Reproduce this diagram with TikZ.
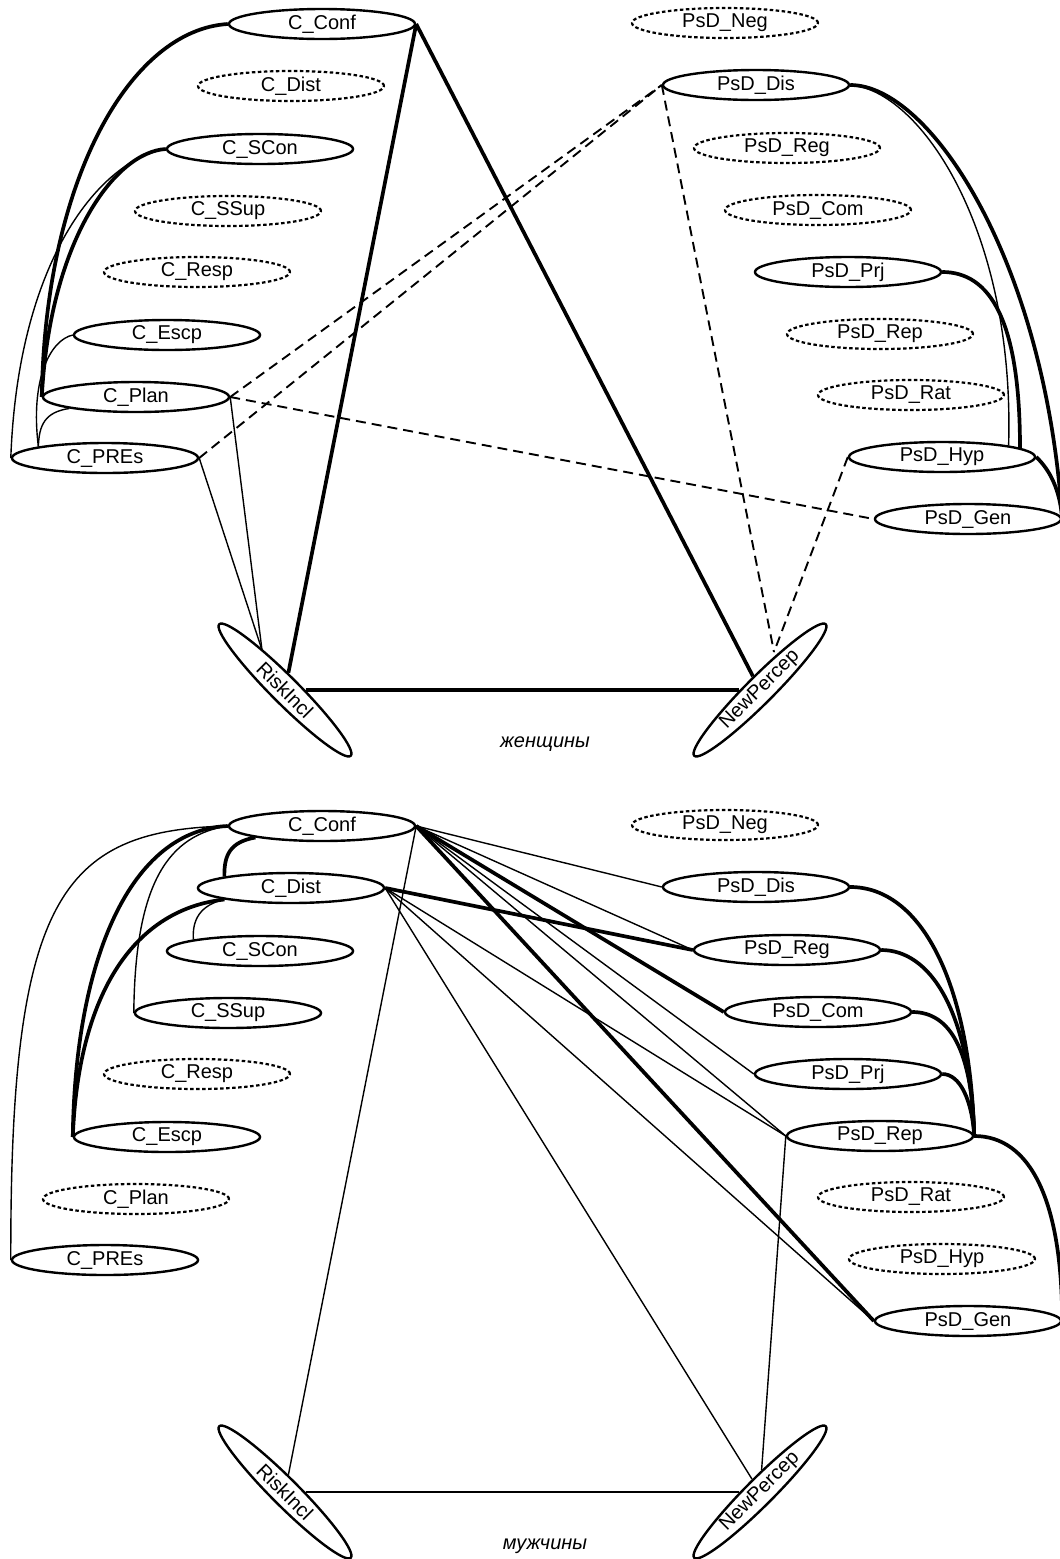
\documentclass[tikz,border=0pt]{standalone}
\usepackage{fontspec}
\setmainfont{Liberation Sans}
\usetikzlibrary{shapes.geometric,calc}
\begin{document}
\begin{tikzpicture}[x=1pt,y=-1pt,
  var/.style={ellipse, draw, line width=2.4pt, minimum width=186pt, minimum height=30pt, inner sep=0pt, font=\fontsize{20}{22}\selectfont},
  lat/.style={var, dash pattern=on 3.5pt off 2.5pt, line width=2.2pt},
  tilt/.style={var, minimum height=27pt},
  wk/.style={line width=1.4pt},
  st/.style={line width=3.7pt},
  dsh/.style={line width=1.9pt, dash pattern=on 10pt off 6pt},
  lbl/.style={font=\fontsize{20}{22}\selectfont\itshape}
]
\useasboundingbox (0,0) rectangle (1060,1559);

% ---------------- upper diagram ----------------
\node[var] (cConfA) at (322,24) {C\_Conf};
\node[lat] (cDistA) at (291,86) {C\_Dist};
\node[var] (cSConA) at (260,149) {C\_SCon};
\node[lat] (cSSupA) at (228,211) {C\_SSup};
\node[lat] (cRespA) at (197,272) {C\_Resp};
\node[var] (cEscpA) at (167,335) {C\_Escp};
\node[var] (cPlanA) at (136,397) {C\_Plan};
\node[var] (cPREsA) at (105,458) {C\_PREs};
\node[lat] (pNegA) at (725,23) {PsD\_Neg};
\node[var] (pDisA) at (756,85) {PsD\_Dis};
\node[lat] (pRegA) at (787,148) {PsD\_Reg};
\node[lat] (pComA) at (818,210) {PsD\_Com};
\node[var] (pPrjA) at (848,272) {PsD\_Prj};
\node[lat] (pRepA) at (880,334) {PsD\_Rep};
\node[lat] (pRatA) at (911,395) {PsD\_Rat};
\node[var] (pHypA) at (942,457) {PsD\_Hyp};
\node[var] (pGenA) at (968,519) {PsD\_Gen};
\node[tilt, rotate=-45] (riskA) at (285,690) {RiskIncl};
\node[tilt, rotate=45] (newA) at (760,690) {NewPercep};
\node[lbl] (womenL) at (545,744) {женщины};

\coordinate (riskTop) at ($(riskA.center)+(-23,-40)$);
\coordinate (newTop) at ($(newA.center)+(14,-38)$);

\draw[st] (cConfA.west) .. controls (130,30) and (45,180) .. (cPlanA.west);
\draw[st] (cSConA.west) .. controls (115,152) and (50,240) .. (cPlanA.west);
\draw[wk] (cSConA.west) .. controls (100,160) and (18,260) .. (cPREsA.west);
\draw[wk] (cEscpA.west) .. controls (50,340) and (30,380) .. (cPREsA.north west);
\draw[wk] (cPlanA.south west) .. controls (45,412) and (39,425) .. (cPREsA.north west);

\draw[st] (cConfA.east) -- (riskA);
\draw[st] (cConfA.east) -- (newA);
\draw[st] (riskA) -- (newA);
\draw[wk] (cPlanA.east) -- (riskTop);
\draw[wk] (cPREsA.east) -- (riskTop);
\draw[dsh] (cPlanA.east) -- (pDisA.west);
\draw[dsh] (cPREsA.east) -- (pDisA.west);
\draw[dsh] (cPlanA.east) -- (pGenA.west);
\draw[dsh] (pDisA.west) -- (newTop);
\draw[dsh] (pHypA.west) -- (newTop);

\draw[st] (pDisA.east) .. controls (930,85) and (1045,260) .. (pGenA.east);
\draw[wk] (pDisA.east) .. controls (920,90) and (1015,230) .. (pHypA.north east);
\draw[st] (pPrjA.east) .. controls (990,272) and (1020,320) .. ($(pHypA.center)+(78,-9)$);
\draw[st] (pHypA.east) .. controls (1050,470) and (1060,490) .. (pGenA.east);

% ---------------- lower diagram ----------------
\node[var] (cConfB) at (322,826) {C\_Conf};
\node[var] (cDistB) at (291,888) {C\_Dist};
\node[var] (cSConB) at (260,951) {C\_SCon};
\node[var] (cSSupB) at (228,1013) {C\_SSup};
\node[lat] (cRespB) at (197,1074) {C\_Resp};
\node[var] (cEscpB) at (167,1137) {C\_Escp};
\node[lat] (cPlanB) at (136,1199) {C\_Plan};
\node[var] (cPREsB) at (105,1260) {C\_PREs};
\node[lat] (pNegB) at (725,825) {PsD\_Neg};
\node[var] (pDisB) at (756,887) {PsD\_Dis};
\node[var] (pRegB) at (787,950) {PsD\_Reg};
\node[var] (pComB) at (818,1012) {PsD\_Com};
\node[var] (pPrjB) at (848,1074) {PsD\_Prj};
\node[var] (pRepB) at (880,1136) {PsD\_Rep};
\node[lat] (pRatB) at (911,1197) {PsD\_Rat};
\node[lat] (pHypB) at (942,1259) {PsD\_Hyp};
\node[var] (pGenB) at (968,1321) {PsD\_Gen};
\node[tilt, rotate=-45] (riskB) at (285,1492) {RiskIncl};
\node[tilt, rotate=45] (newB) at (760,1492) {NewPercep};
\node[lbl] (menL) at (545,1546) {мужчины};

\draw[st] (cConfB.west) .. controls (130,830) and (75,960) .. (cEscpB.west);
\draw[st] (cDistB.south west) .. controls (130,910) and (78,1000) .. (cEscpB.west);
\draw[st] (cConfB.south west) .. controls (230,842) and (224,855) .. (cDistB.north west);
\draw[wk] (cConfB.west) .. controls (60,830) and (10,900) .. (cPREsB.west);
\draw[wk] (cConfB.west) .. controls (170,835) and (135,880) .. (cSSupB.west);
\draw[wk] (cDistB.south west) .. controls (200,905) and (192,920) .. (cSConB.north west);

\draw[wk] (cConfB.east) -- (pDisB.west);
\draw[wk] (cConfB.east) -- (pRegB.west);
\draw[st] (cConfB.east) -- (pComB.west);
\draw[wk] (cConfB.east) -- (pPrjB.west);
\draw[wk] (cConfB.east) -- (pRepB.west);
\draw[st] (cConfB.east) -- (pGenB.west);
\draw[wk] (cConfB.east) -- (riskB);
\draw[st] (cDistB.east) -- (pRegB.west);
\draw[wk] (cDistB.east) -- (pRepB.west);
\draw[wk] (cDistB.east) -- (pGenB.west);
\draw[wk] (cDistB.east) -- (newB);
\draw[wk] (pRepB.west) -- (newB);
\draw[wk] (riskB) -- (newB);

\draw[st] (pDisB.east) .. controls (920,887) and (970,980) .. (pRepB.east);
\draw[st] (pRegB.east) .. controls (930,950) and (970,1010) .. (pRepB.east);
\draw[st] (pComB.east) .. controls (950,1012) and (972,1050) .. (pRepB.east);
\draw[st] (pPrjB.east) .. controls (960,1074) and (972,1100) .. (pRepB.east);
\draw[st] (pRepB.east) .. controls (1030,1136) and (1062,1200) .. (pGenB.east);
\end{tikzpicture}
\end{document}
